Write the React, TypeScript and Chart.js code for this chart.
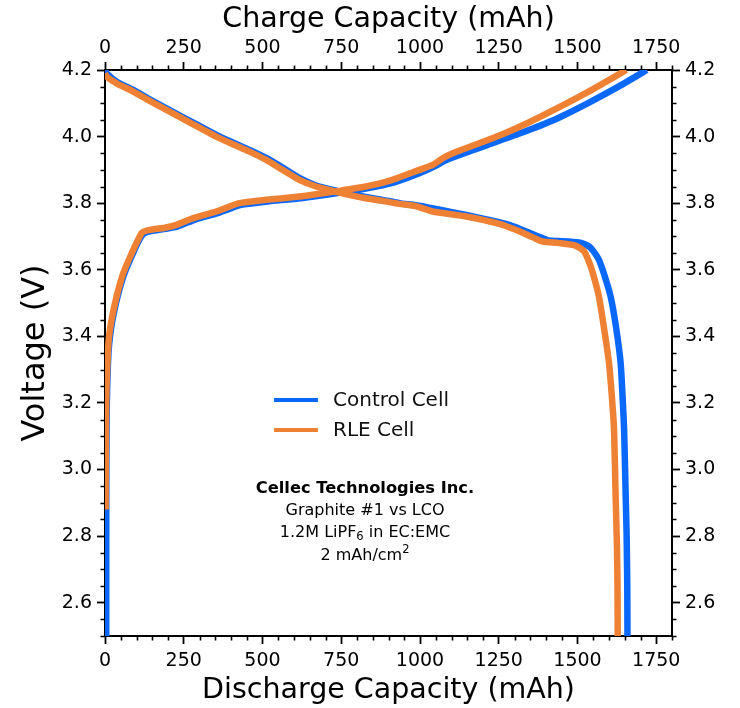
import { useEffect, useRef } from 'react';
import { Chart, registerables } from 'chart.js';

Chart.register(...registerables);

const FONT = "'DejaVu Sans', 'Liberation Sans', sans-serif";
const CONTROL_COLOR = '#0a68fa';
const RLE_COLOR = '#ee8134';

// Axis ticks
const capacityTicks = [0, 250, 500, 750, 1000, 1250, 1500, 1750];
const voltageTicks = [2.6, 2.8, 3.0, 3.2, 3.4, 3.6, 3.8, 4.0, 4.2];

// Legend / annotation text
const legendLabels = ['Control Cell', 'RLE Cell'];
const companyName = 'Cellec Technologies Inc.';

// RLE cell - charge
const rleChargeCap = [2, 3, 5, 9, 13, 21, 37, 58, 85, 105, 118, 142, 190, 227, 280, 353, 427, 512, 617, 670, 744, 828, 912, 998, 1040, 1072, 1104, 1188, 1262, 1340, 1425, 1535, 1655];
const rleChargeV = [2.88, 3.15, 3.25, 3.35, 3.4, 3.45, 3.52, 3.59, 3.65, 3.69, 3.712, 3.72, 3.726, 3.735, 3.755, 3.775, 3.8, 3.81, 3.82, 3.827, 3.837, 3.85, 3.87, 3.9, 3.915, 3.935, 3.95, 3.98, 4.007, 4.04, 4.08, 4.135, 4.2];

// Control cell - charge
const controlChargeCap = [4, 4, 5, 7, 11, 16, 24, 40, 62, 89, 109, 122, 146, 230, 284, 357, 432, 516, 621, 748, 832, 916, 998, 1050, 1080, 1104, 1209, 1318, 1425, 1532, 1630, 1720];
const controlChargeV = [2.4, 2.88, 3.15, 3.25, 3.35, 3.4, 3.45, 3.52, 3.59, 3.65, 3.69, 3.708, 3.716, 3.73, 3.75, 3.77, 3.795, 3.805, 3.815, 3.832, 3.845, 3.862, 3.89, 3.912, 3.928, 3.937, 3.973, 4.01, 4.05, 4.1, 4.15, 4.2];

// RLE cell - discharge
const rleDischargeCap = [0, 5, 37, 90, 142, 195, 248, 300, 353, 406, 459, 512, 564, 617, 670, 723, 775, 828, 881, 934, 986, 1040, 1146, 1252, 1304, 1357, 1389, 1442, 1495, 1521, 1542, 1556, 1568, 1585, 1600, 1609, 1616, 1621, 1625, 1627, 1628];
const rleDischargeV = [4.19, 4.18, 4.16, 4.135, 4.107, 4.08, 4.053, 4.027, 4.0, 3.977, 3.955, 3.93, 3.9, 3.87, 3.85, 3.837, 3.825, 3.815, 3.807, 3.798, 3.791, 3.775, 3.76, 3.738, 3.72, 3.698, 3.685, 3.68, 3.672, 3.655, 3.61, 3.565, 3.52, 3.42, 3.32, 3.22, 3.12, 2.92, 2.78, 2.65, 2.4];

// Control cell - discharge
const controlDischargeCap = [0, 5, 37, 90, 142, 195, 248, 300, 353, 406, 459, 512, 564, 617, 670, 723, 775, 828, 881, 935, 986, 1050, 1146, 1283, 1389, 1410, 1505, 1537, 1555, 1568, 1585, 1605, 1622, 1637, 1643, 1648, 1653, 1656, 1658, 1659];
const controlDischargeV = [4.2, 4.19, 4.165, 4.14, 4.112, 4.085, 4.058, 4.032, 4.005, 3.982, 3.96, 3.936, 3.907, 3.876, 3.853, 3.84, 3.828, 3.819, 3.81, 3.8, 3.794, 3.783, 3.765, 3.735, 3.695, 3.688, 3.682, 3.67, 3.65, 3.63, 3.585, 3.52, 3.43, 3.32, 3.22, 3.12, 2.92, 2.8, 2.65, 2.4];

const pts = (xs: number[], ys: number[]) => xs.map((x, i) => ({ x, y: ys[i] }));

const minorTicksPlugin = {
  id: 'minorTicks',
  afterDraw(chart: any) {
    const ctx = chart.ctx;
    const { top, bottom, left, right } = chart.chartArea;
    const sx = chart.scales.x;
    const sx2 = chart.scales.x2;
    const sy = chart.scales.y;
    const sy2 = chart.scales.y2;
    ctx.save();
    ctx.strokeStyle = '#000';
    ctx.lineWidth = 1.6;
    const len = 4.5;
    ctx.beginPath();
    for (let v = 0; v <= 1800; v += 50) {
      if (v % 250 === 0) continue;
      const p = Math.round(sx.getPixelForValue(v)) + 0.5;
      ctx.moveTo(p, bottom);
      ctx.lineTo(p, bottom + len);
      const p2 = Math.round(sx2.getPixelForValue(v)) + 0.5;
      ctx.moveTo(p2, top);
      ctx.lineTo(p2, top - len);
    }
    for (let i = 50; i <= 84; i++) {
      if (i % 4 === 0) continue;
      const v = i * 0.05;
      const p = Math.round(sy.getPixelForValue(v)) + 0.5;
      ctx.moveTo(left, p);
      ctx.lineTo(left - len, p);
      const p2 = Math.round(sy2.getPixelForValue(v)) + 0.5;
      ctx.moveTo(right, p2);
      ctx.lineTo(right + len, p2);
    }
    ctx.stroke();
    ctx.restore();
  },
};

const annotationPlugin = {
  id: 'annotation',
  afterDraw(chart: any) {
    const ctx = chart.ctx;
    ctx.save();
    // legend
    const colors = [CONTROL_COLOR, RLE_COLOR];
    const ly = [400, 430];
    legendLabels.forEach((lab, i) => {
      ctx.strokeStyle = colors[i];
      ctx.lineWidth = 4;
      ctx.beginPath();
      ctx.moveTo(274, ly[i]);
      ctx.lineTo(318, ly[i]);
      ctx.stroke();
      ctx.fillStyle = '#111';
      ctx.font = `20px ${FONT}`;
      ctx.textAlign = 'left';
      ctx.textBaseline = 'middle';
      ctx.fillText(lab, 333, ly[i] + 1);
    });
    // annotation block
    const cx = 365;
    ctx.fillStyle = '#000';
    ctx.textBaseline = 'middle';
    ctx.textAlign = 'center';
    ctx.font = `bold 16.3px ${FONT}`;
    ctx.fillText(companyName, cx, 489);
    ctx.font = `16px ${FONT}`;
    ctx.fillText('Graphite #1 vs LCO', cx, 511);
    const drawParts = (parts: { t: string; size: number; dy: number }[], y: number) => {
      let total = 0;
      parts.forEach((p) => {
        ctx.font = `${p.size}px ${FONT}`;
        total += ctx.measureText(p.t).width;
      });
      let x = cx - total / 2;
      ctx.textAlign = 'left';
      parts.forEach((p) => {
        ctx.font = `${p.size}px ${FONT}`;
        ctx.fillText(p.t, x, y + p.dy);
        x += ctx.measureText(p.t).width;
      });
    };
    drawParts(
      [
        { t: '1.2M LiPF', size: 16, dy: 0 },
        { t: '6', size: 11.5, dy: 4 },
        { t: ' in EC:EMC', size: 16, dy: 0 },
      ],
      533
    );
    drawParts(
      [
        { t: '2 mAh/cm', size: 16, dy: 0 },
        { t: '2', size: 11.5, dy: -6 },
      ],
      556
    );
    ctx.restore();
  },
};

export default function App() {
  const ref = useRef<HTMLCanvasElement | null>(null);

  useEffect(() => {
    if (!ref.current) return;
    const tickFont = { family: FONT, size: 19 };
    const titleFont = { family: FONT, size: 28.5 };
    const grid = {
      display: true,
      drawOnChartArea: false,
      drawTicks: true,
      tickLength: 8,
      tickWidth: 1.8,
      tickColor: '#000',
    };
    const border = { display: true, color: '#000', width: 2 };
    const common = {
      type: 'linear' as const,
      grid,
      border,
    };
    const capTicksCfg = {
      font: tickFont,
      color: '#000',
      padding: 3,
      maxRotation: 0,
      autoSkip: false,
      callback: (v: any) => String(v),
    };
    const capTicksBottom = { ...capTicksCfg, padding: 6 };
    const voltTicksCfg = {
      font: tickFont,
      color: '#000',
      padding: 5,
      autoSkip: false,
      callback: (v: any) => Number(v).toFixed(1),
    };

    const lineDs = (label: string, data: any[], color: string, xAxisID: string) => ({
      label,
      data,
      borderColor: color,
      backgroundColor: color,
      borderWidth: 6.5,
      pointRadius: 0,
      tension: 0.2,
      fill: false,
      xAxisID,
      yAxisID: 'y',
      clip: 0,
      borderCapStyle: 'butt' as const,
      borderJoinStyle: 'round' as const,
    });

    const chart = new Chart(ref.current, {
      type: 'line',
      data: {
        datasets: [
          lineDs('RLE Cell', pts(rleDischargeCap, rleDischargeV), RLE_COLOR, 'x'),
          lineDs('RLE Cell (charge)', pts(rleChargeCap, rleChargeV), RLE_COLOR, 'x2'),
          lineDs('Control Cell', pts(controlDischargeCap, controlDischargeV), CONTROL_COLOR, 'x'),
          lineDs('Control Cell (charge)', pts(controlChargeCap, controlChargeV), CONTROL_COLOR, 'x2'),
        ],
      },
      options: {
        responsive: false,
        animation: false,
        devicePixelRatio: 1,
        layout: { padding: 0 },
        plugins: {
          legend: { display: false },
          tooltip: { enabled: false },
        },
        scales: {
          x: {
            ...common,
            position: 'bottom',
            min: 0,
            max: 1800,
            ticks: capTicksBottom,
            afterBuildTicks: (s: any) => {
              s.ticks = capacityTicks.map((value) => ({ value }));
            },
            afterFit: (s: any) => {
              s.height = 72;
            },
            title: {
              display: true,
              text: 'Discharge Capacity (mAh)',
              font: titleFont,
              color: '#000',
              padding: { top: 0, bottom: 0 },
            },
          },
          x2: {
            ...common,
            position: 'top',
            min: 0,
            max: 1800,
            ticks: capTicksCfg,
            afterBuildTicks: (s: any) => {
              s.ticks = capacityTicks.map((value) => ({ value }));
            },
            afterFit: (s: any) => {
              s.height = 70;
            },
            title: {
              display: true,
              text: 'Charge Capacity (mAh)',
              font: titleFont,
              color: '#000',
              padding: { top: 2, bottom: 0 },
            },
          },
          y: {
            ...common,
            position: 'left',
            min: 2.5,
            max: 4.2,
            ticks: voltTicksCfg,
            afterBuildTicks: (s: any) => {
              s.ticks = voltageTicks.map((value) => ({ value }));
            },
            afterFit: (s: any) => {
              s.width = 105;
            },
            title: {
              display: true,
              text: 'Voltage (V)',
              font: { family: FONT, size: 32 },
              color: '#000',
              padding: { top: 16, bottom: 0 },
            },
          },
          y2: {
            ...common,
            position: 'right',
            min: 2.5,
            max: 4.2,
            ticks: voltTicksCfg,
            afterBuildTicks: (s: any) => {
              s.ticks = voltageTicks.map((value) => ({ value }));
            },
            afterFit: (s: any) => {
              s.width = 68;
            },
          },
        },
      },
      plugins: [minorTicksPlugin, annotationPlugin],
    } as any);

    return () => chart.destroy();
  }, []);

  return (
    <div style={{ position: 'fixed', left: 0, top: 0, width: 740, height: 708, background: '#fff' }}>
      <canvas ref={ref} width={740} height={708} style={{ width: 740, height: 708, display: 'block' }} />
    </div>
  );
}
